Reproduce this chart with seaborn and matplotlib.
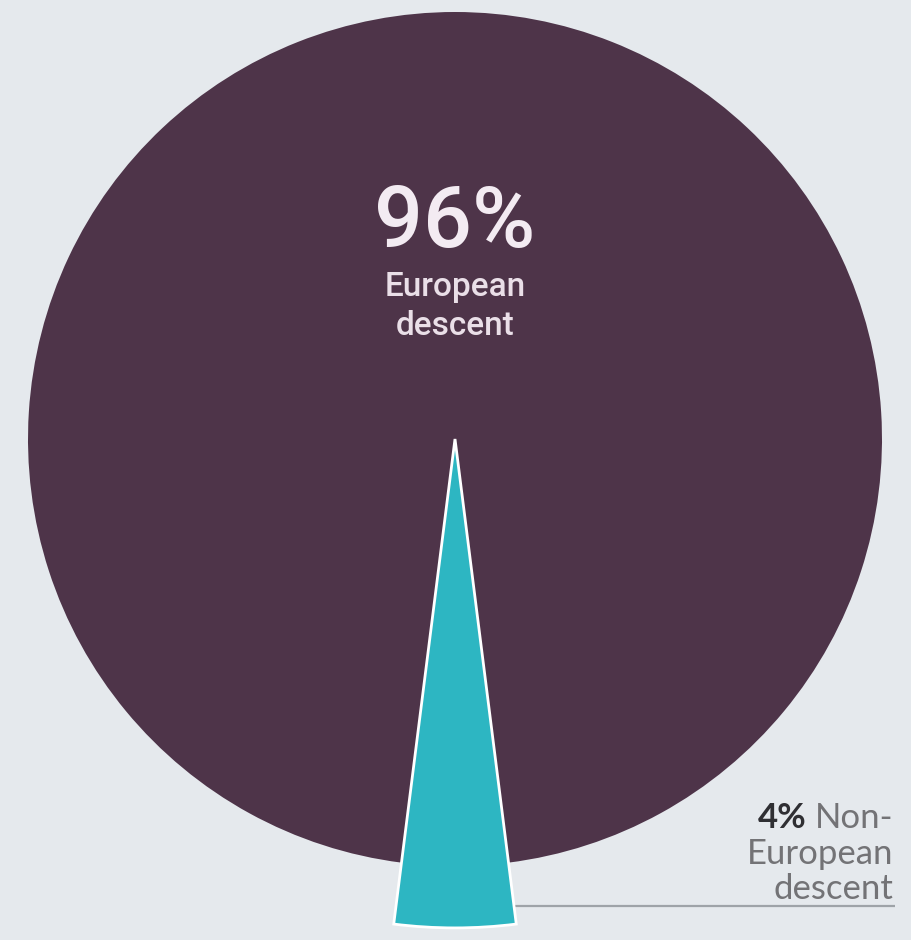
import matplotlib
matplotlib.use("Agg")
import matplotlib.pyplot as plt
import seaborn as sns

# Share of participants by ancestry
categories = ["European descent", "Non-European descent"]
shares = [96, 4]
center_value = "96%"
center_label = ["European", "descent"]
side_value = "4%"
side_label = ["Non-", "European", "descent"]

sns.set_theme(style="white")
plt.rcParams["font.family"] = ["Roboto", "DejaVu Sans"]

bg = "#e5e9ed"
palette = sns.color_palette(["#4e3449", "#2db6c2"])

W, H = 911, 940
fig = plt.figure(figsize=(W / 100, H / 100), dpi=100, facecolor=bg)
ax = fig.add_axes([0, 0, 1, 1])
ax.set_facecolor(bg)

# pie centre and radius in pixels
cx, cy, r = 455, 439, 427

half = 360 * shares[1] / sum(shares) / 2
start = 270 - half - 360 * shares[0] / sum(shares)
wedges, _ = ax.pie(shares, colors=palette, startangle=start, counterclock=True,
                   radius=1.0, center=(0, 0), wedgeprops=dict(linewidth=0))
# the small slice is drawn longer, reaching below the disc
wedges[1].set_radius(1.145)
wedges[1].set_edgecolor("white")
wedges[1].set_linewidth(2.0)
wedges[1].set_zorder(3)

ax.set_xlim(-cx / r, (W - cx) / r)
ax.set_ylim(-(H - cy) / r, cy / r)
ax.set_aspect("equal", adjustable="box")
ax.axis("off")


def py(y_px):
    return (cy - y_px) / r


def px(x_px):
    return (x_px - cx) / r


# centre label
ax.text(0, py(247), center_value, ha="center", va="baseline", color="#f3ebf2",
        fontsize=62, fontweight="medium")
ax.text(0, py(296), center_label[0], ha="center", va="baseline", color="#eadfe8",
        fontsize=24, fontweight="medium")
ax.text(0, py(335), center_label[1], ha="center", va="baseline", color="#eadfe8",
        fontsize=24, fontweight="medium")

# side label with leader line
ax.plot([px(515), px(895)], [py(906), py(906)], color="#9ea3a8", lw=1.6,
        solid_capstyle="butt", zorder=2)
right = px(893)
t1 = ax.text(right, py(828), side_label[0], ha="right", va="baseline",
             color="#737376", fontsize=25, family=["Lato", "DejaVu Sans"])
fig.canvas.draw()
rend = fig.canvas.get_renderer()
bb = t1.get_window_extent(rend)
left_data = ax.transData.inverted().transform((bb.x0, bb.y0))[0]
ax.text(left_data - px(455 + 8), py(828), side_value, ha="right", va="baseline",
        color="#2f2f33", fontsize=25, fontweight="bold", family=["Lato", "DejaVu Sans"])
ax.text(right, py(864), side_label[1], ha="right", va="baseline",
        color="#737376", fontsize=25, family=["Lato", "DejaVu Sans"])
ax.text(right, py(899), side_label[2], ha="right", va="baseline",
        color="#737376", fontsize=25, family=["Lato", "DejaVu Sans"])

fig.savefig("out.png", dpi=100, facecolor=bg)
